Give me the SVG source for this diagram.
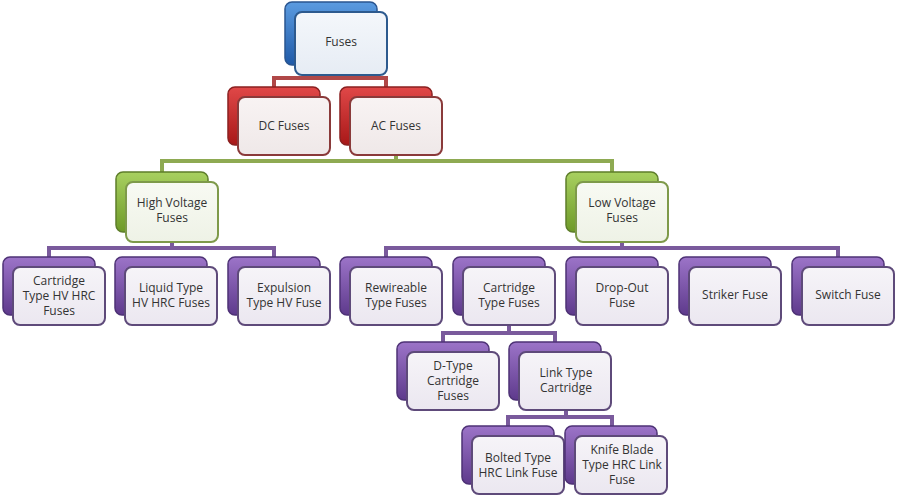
<svg xmlns="http://www.w3.org/2000/svg" width="897" height="496" viewBox="0 0 897 496">
<defs>
<linearGradient id="gb" x1="0" y1="0" x2="0" y2="1"><stop offset="0" stop-color="#5b9be0"/><stop offset="1" stop-color="#1f5aa8"/></linearGradient>
<linearGradient id="gr" x1="0" y1="0" x2="0" y2="1"><stop offset="0" stop-color="#e04848"/><stop offset="1" stop-color="#a81818"/></linearGradient>
<linearGradient id="gg" x1="0" y1="0" x2="0" y2="1"><stop offset="0" stop-color="#a8d060"/><stop offset="1" stop-color="#6e9a28"/></linearGradient>
<linearGradient id="gp" x1="0" y1="0" x2="0" y2="1"><stop offset="0" stop-color="#9c74c8"/><stop offset="1" stop-color="#5e3a8c"/></linearGradient>
<linearGradient id="fb" x1="0" y1="0" x2="0" y2="1"><stop offset="0" stop-color="#f4f7fb"/><stop offset="1" stop-color="#e6ecf4"/></linearGradient>
<linearGradient id="fr" x1="0" y1="0" x2="0" y2="1"><stop offset="0" stop-color="#f8f3f3"/><stop offset="1" stop-color="#efe8e8"/></linearGradient>
<linearGradient id="fg" x1="0" y1="0" x2="0" y2="1"><stop offset="0" stop-color="#f8faf3"/><stop offset="1" stop-color="#eef2e6"/></linearGradient>
<linearGradient id="fp" x1="0" y1="0" x2="0" y2="1"><stop offset="0" stop-color="#f6f4f8"/><stop offset="1" stop-color="#ebe7f0"/></linearGradient>
</defs>
<style>
.t{font-family:"Open Sans","Liberation Sans",sans-serif;font-size:12px;fill:#333;text-anchor:middle}
.bb{fill:url(#gb);stroke:#2a5590;stroke-width:1.5}
.fb{fill:url(#fb);stroke:#2d5a8e;stroke-width:2}
.br{fill:url(#gr);stroke:#8a2020;stroke-width:1.5}
.fr{fill:url(#fr);stroke:#8a3a3a;stroke-width:2}
.bg{fill:url(#gg);stroke:#5e7e2a;stroke-width:1.5}
.fg{fill:url(#fg);stroke:#7e9a4a;stroke-width:2}
.bp{fill:url(#gp);stroke:#4e3276;stroke-width:1.5}
.fp{fill:url(#fp);stroke:#5e4a7a;stroke-width:2}
.c{fill:none;stroke-width:4}
</style>
<g id="connectors">
<path class="c" stroke="#b04848" d="M331 75V78M274 88V78H386V88"/>
<path class="c" stroke="#8eaa52" d="M396 155V161M162 172V161H612V172"/>
<path class="c" stroke="#7a5a9c" d="M172 242V248M49 257V248H274V257M622 242V248M386 257V248H838V257M509 325V333M443 342V333H555V342M566 410V417M508 426V417H612V426"/>
</g>
<g id="n-fuses"><rect class="bb" x="285" y="2" width="92" height="63" rx="7"/><rect class="fb" x="295" y="12" width="92" height="63" rx="7"/><text class="t" x="341" y="46">Fuses</text></g>
<g id="n-dc"><rect class="br" x="228" y="87" width="92" height="58" rx="7"/><rect class="fr" x="238" y="97" width="92" height="58" rx="7"/><text class="t" x="284" y="130">DC Fuses</text></g>
<g id="n-ac"><rect class="br" x="340" y="87" width="92" height="58" rx="7"/><rect class="fr" x="350" y="97" width="92" height="58" rx="7"/><text class="t" x="396" y="130">AC Fuses</text></g>
<g id="n-hv"><rect class="bg" x="116" y="172" width="92" height="60" rx="7"/><rect class="fg" x="126" y="182" width="92" height="60" rx="7"/><text class="t" x="172" y="207">High Voltage</text><text class="t" x="172" y="222">Fuses</text></g>
<g id="n-lv"><rect class="bg" x="566" y="172" width="92" height="60" rx="7"/><rect class="fg" x="576" y="182" width="92" height="60" rx="7"/><text class="t" x="622" y="207">Low Voltage</text><text class="t" x="622" y="222">Fuses</text></g>
<g id="n-cart-hv"><rect class="bp" x="3" y="257" width="92" height="58" rx="7"/><rect class="fp" x="13" y="267" width="92" height="58" rx="7"/><text class="t" x="59" y="285">Cartridge</text><text class="t" x="59" y="300">Type HV HRC</text><text class="t" x="59" y="315">Fuses</text></g>
<g id="n-liquid"><rect class="bp" x="115" y="257" width="92" height="58" rx="7"/><rect class="fp" x="125" y="267" width="92" height="58" rx="7"/><text class="t" x="171" y="292">Liquid Type</text><text class="t" x="171" y="307">HV HRC Fuses</text></g>
<g id="n-expulsion"><rect class="bp" x="228" y="257" width="92" height="58" rx="7"/><rect class="fp" x="238" y="267" width="92" height="58" rx="7"/><text class="t" x="284" y="292">Expulsion</text><text class="t" x="284" y="307">Type HV Fuse</text></g>
<g id="n-rewire"><rect class="bp" x="340" y="257" width="92" height="58" rx="7"/><rect class="fp" x="350" y="267" width="92" height="58" rx="7"/><text class="t" x="396" y="292">Rewireable</text><text class="t" x="396" y="307">Type Fuses</text></g>
<g id="n-cart-lv"><rect class="bp" x="453" y="257" width="92" height="58" rx="7"/><rect class="fp" x="463" y="267" width="92" height="58" rx="7"/><text class="t" x="509" y="292">Cartridge</text><text class="t" x="509" y="307">Type Fuses</text></g>
<g id="n-dropout"><rect class="bp" x="566" y="257" width="92" height="58" rx="7"/><rect class="fp" x="576" y="267" width="92" height="58" rx="7"/><text class="t" x="622" y="292">Drop-Out</text><text class="t" x="622" y="307">Fuse</text></g>
<g id="n-striker"><rect class="bp" x="679" y="257" width="92" height="58" rx="7"/><rect class="fp" x="689" y="267" width="92" height="58" rx="7"/><text class="t" x="735" y="299">Striker Fuse</text></g>
<g id="n-switch"><rect class="bp" x="792" y="257" width="92" height="58" rx="7"/><rect class="fp" x="802" y="267" width="92" height="58" rx="7"/><text class="t" x="848" y="299">Switch Fuse</text></g>
<g id="n-dtype"><rect class="bp" x="397" y="342" width="92" height="58" rx="7"/><rect class="fp" x="407" y="352" width="92" height="58" rx="7"/><text class="t" x="453" y="370">D-Type</text><text class="t" x="453" y="385">Cartridge</text><text class="t" x="453" y="400">Fuses</text></g>
<g id="n-link"><rect class="bp" x="509" y="342" width="92" height="58" rx="7"/><rect class="fp" x="519" y="352" width="92" height="58" rx="7"/><text class="t" x="566" y="377">Link Type</text><text class="t" x="566" y="392">Cartridge</text></g>
<g id="n-bolted"><rect class="bp" x="462" y="426" width="92" height="58" rx="7"/><rect class="fp" x="472" y="436" width="92" height="58" rx="7"/><text class="t" x="518" y="462">Bolted Type</text><text class="t" x="518" y="477">HRC Link Fuse</text></g>
<g id="n-knife"><rect class="bp" x="565" y="426" width="92" height="58" rx="7"/><rect class="fp" x="575" y="436" width="92" height="58" rx="7"/><text class="t" x="622" y="454">Knife Blade</text><text class="t" x="622" y="469">Type HRC Link</text><text class="t" x="622" y="484">Fuse</text></g>
</svg>
